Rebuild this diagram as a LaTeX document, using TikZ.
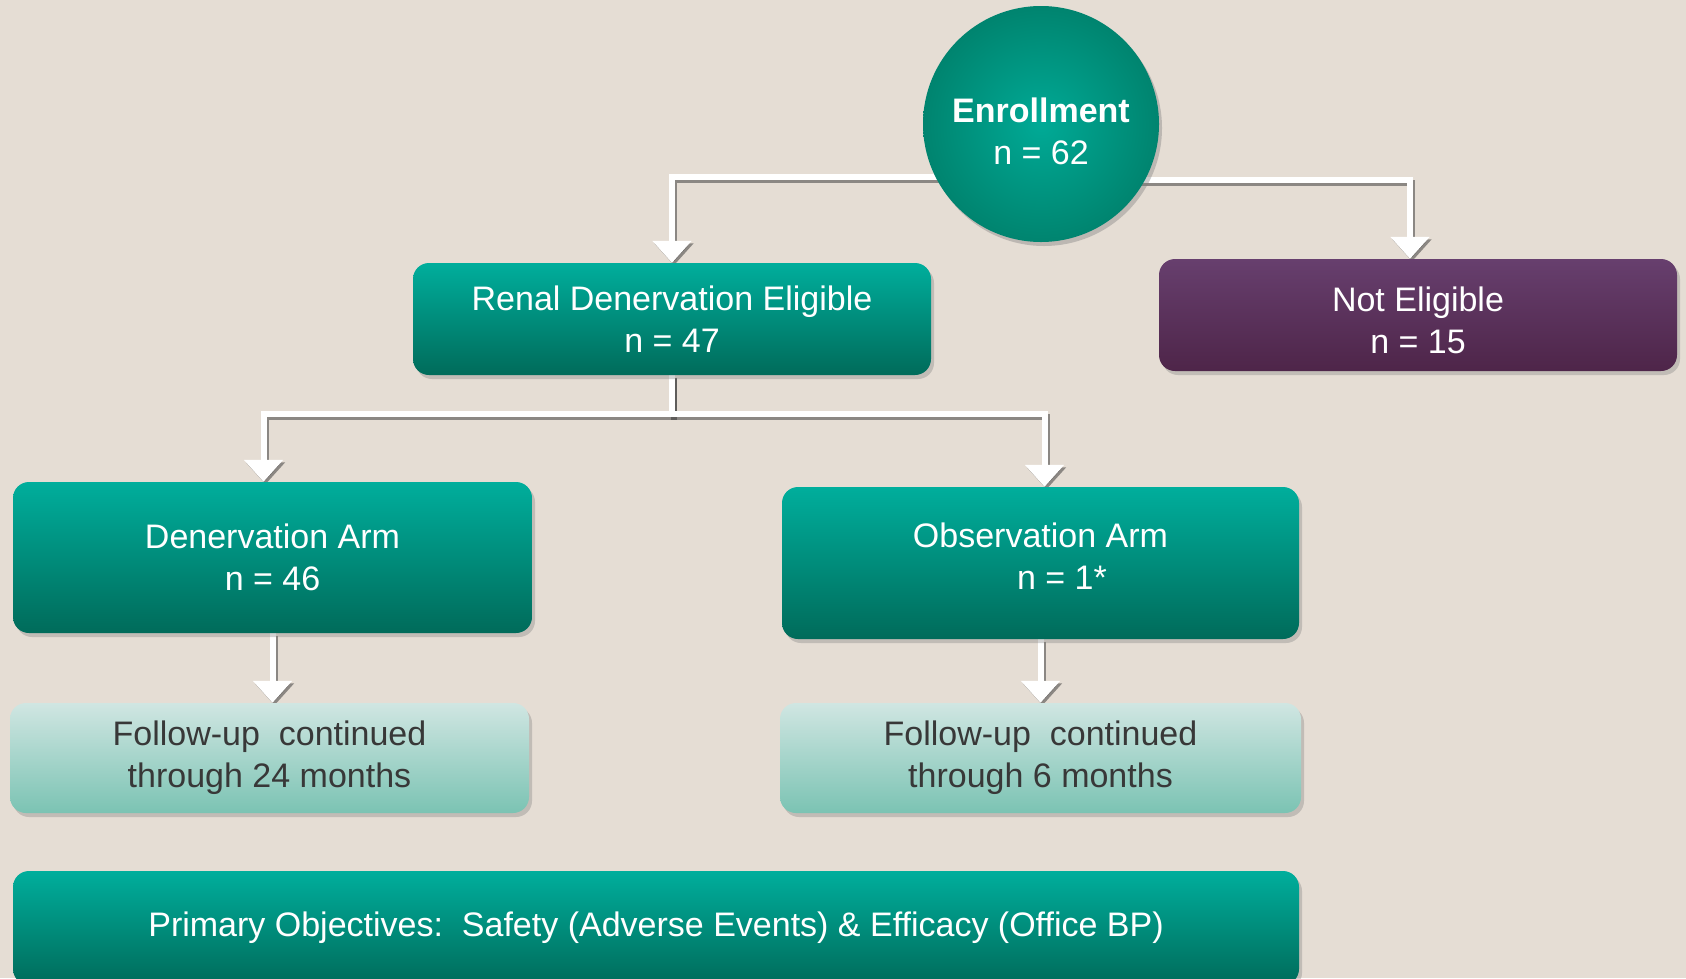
\documentclass[tikz,border=0pt]{standalone}
\usepackage{fontspec}
\setmainfont{Liberation Sans}
\usetikzlibrary{arrows.meta,shadows}
\definecolor{bgc}{HTML}{E5DDD4}
\definecolor{tealtop}{HTML}{00AE9C}
\definecolor{tealbot}{HTML}{006B5A}
\definecolor{tealin}{HTML}{00AA96}
\definecolor{tealout}{HTML}{00846F}
\definecolor{purtop}{HTML}{673F6E}
\definecolor{purbot}{HTML}{4E2549}
\definecolor{lttop}{HTML}{D0E6E2}
\definecolor{ltbot}{HTML}{7BC3B3}
\definecolor{dtext}{HTML}{383838}
\pgfdeclarelayer{bg}
\pgfsetlayers{bg,main}
\tikzset{
  boxbase/.style={rectangle, rounded corners=16pt, inner sep=0pt, align=center,
    drop shadow={opacity=.35, shadow xshift=3pt, shadow yshift=-4pt}},
  tealbox/.style={boxbase, top color=tealtop, bottom color=tealbot, text=white},
  purbox/.style={boxbase, top color=purtop, bottom color=purbot, text=white},
  ltbox/.style={boxbase, top color=lttop, bottom color=ltbot, text=dtext},
  circbox/.style={circle, inner sep=0pt, minimum size=236pt, inner color=tealin, outer color=tealout,
    drop shadow={opacity=.4, shadow xshift=3pt, shadow yshift=-4pt}},
  lbl/.style={text=white, align=center, inner sep=0pt},
  tipstyle/.style={-{Triangle[width=38pt,length=22pt]}},
  connshadow/.style={draw=black!80, opacity=.5, line width=6pt, line join=miter, tipstyle,
    transform canvas={xshift=2pt,yshift=-2.5pt}},
  connwhite/.style={draw=white, line width=6pt, line join=miter, tipstyle},
}
\newcommand\allconnectors[1]{%
  \draw[#1] ([yshift=-53pt]enr.center) -| (ren.north);
  \draw[#1] ([yshift=-56pt]enr.center) -| ([xshift=-8pt]ne.north);
  \draw[#1] (ren.south) -- ++(0,39) -| ([xshift=-9pt]den.north);
  \draw[#1] (ren.south) -- ++(0,39) -| ([xshift=4pt]obs.north);
  \draw[#1] (den.south) -- (den.south |- fu1.north);
  \draw[#1] (obs.south) -- (obs.south |- fu2.north);
}
\begin{document}
\begin{tikzpicture}[x=1pt,y=-1pt, font=\fontsize{34}{42}\selectfont]
\useasboundingbox (0,0) rectangle (1686,978);
\begin{pgfonlayer}{bg}
  \fill[bgc] (0,0) rectangle (1686,978);
\end{pgfonlayer}

\node[circbox] (enr) at (1041,124) {};
\node[lbl] (enrtext) at (1041,131) {\textbf{Enrollment}\\n = 62};

\node[tealbox, minimum width=518pt, minimum height=112pt] (ren) at (672,319)
  {Renal Denervation Eligible\\n = 47};
\node[purbox, minimum width=518pt, minimum height=112pt] (ne) at (1418,315) {};
\node[lbl] (netext) at (1418,320) {Not Eligible\\n = 15};
\node[tealbox, minimum width=519pt, minimum height=151pt] (den) at (272.5,557.5)
  {Denervation Arm\\n = 46};
\node[tealbox, minimum width=517pt, minimum height=152pt] (obs) at (1040.5,563) {};
\node[lbl] (obstext) at (1040.5,556.5) {Observation Arm\\\hspace*{43pt}n = 1*};
\node[ltbox, minimum width=519pt, minimum height=110pt] (fu1) at (269.5,758)
  {Follow-up\ \ continued\\through\ 24 months};
\node[ltbox, minimum width=521pt, minimum height=110pt] (fu2) at (1040.5,758)
  {Follow-up\ \ continued\\through\ 6 months};
\node[tealbox, minimum width=1286pt, minimum height=114pt] (prim) at (656,928)
  {Primary Objectives:\ \ Safety (Adverse Events) \& Efficacy (Office BP)};

\begin{pgfonlayer}{bg}
  \allconnectors{connshadow}
  \allconnectors{connwhite}
\end{pgfonlayer}
\end{tikzpicture}
\end{document}
